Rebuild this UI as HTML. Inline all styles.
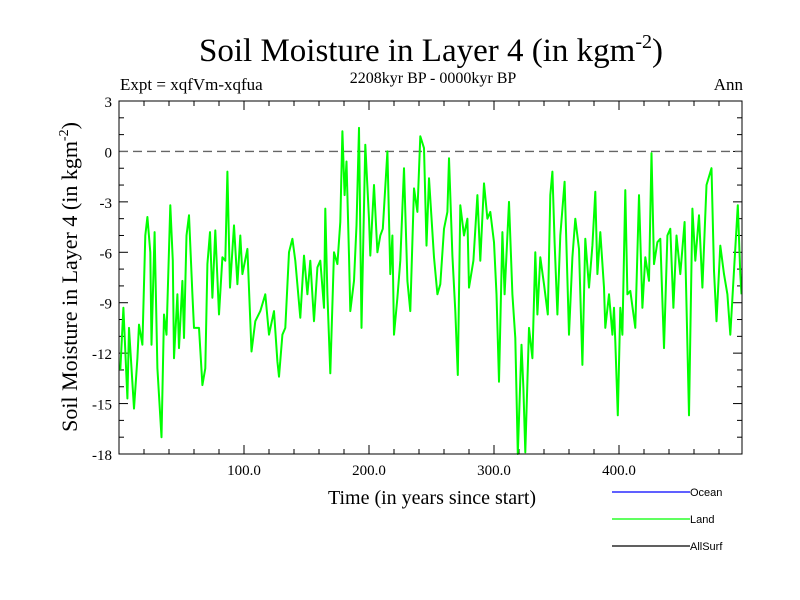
<!DOCTYPE html>
<html><head><meta charset="utf-8"><style>
body{margin:0;background:#fff}
svg{display:block;font-family:"Liberation Serif",serif}
</style></head><body>
<svg id="chart" width="800" height="600" viewBox="0 0 800 600">
<rect width="800" height="600" fill="#fff"/>
<text x="431" y="61" font-size="33" text-anchor="middle">Soil Moisture in Layer 4 (in kgm<tspan dy="-13" font-size="20">-2</tspan><tspan dy="13">)</tspan></text>
<text x="120" y="90" font-size="17">Expt = xqfVm-xqfua</text>
<text x="433" y="83" font-size="16" text-anchor="middle">2208kyr BP - 0000kyr BP</text>
<text x="743" y="90" font-size="17" text-anchor="end">Ann</text>
<text transform="translate(77,277) rotate(-90)" font-size="22" text-anchor="middle">Soil Moisture in Layer 4 (in kgm<tspan dy="-9" font-size="14">-2</tspan><tspan dy="9">)</tspan></text>
<text x="432" y="504" font-size="20" text-anchor="middle">Time (in years since start)</text>
<g id="axes"></g>
<g id="series"></g>
<rect x="119" y="101" width="623" height="353" fill="none" stroke="#000" stroke-width="1"/>
<g id="legend" font-family="Liberation Sans, sans-serif" font-size="11"></g>
</svg>
<script>
const years=[1,3.5,6.7,8,12,14.7,16,18.7,21,22.7,25,26,28.5,30.7,34,36,38,41,43,44,46.7,48,50.7,52,54,56,58.7,60,64,66.7,69,70.7,72.8,74.7,77,80,82.7,85,86.7,88.8,92,94.7,97,98.7,102.7,106,109,113,117,120,124,126.7,128,130.7,133,136,138.7,141,145,148,150.7,153,156,158.7,161,164,165,166.7,169,172,174.7,177,178.7,180.5,182,184,185,188,190,192,194,195.5,197,200,201,204,206.7,209,211,214.7,217,218.7,220,222.7,225,228,230.7,233,236,238.7,241,244,246,248,252,254.7,257,260,262.7,264,266.7,269,271,273,276,278.7,280,283.5,286.7,289,292,294.7,297,300,302,304,306.7,308.5,312,314.7,317,319,322,323.5,325,328,330.7,333,334.7,337,340,343,345,346.7,348.5,350.7,353,356.5,360,362.7,365,368,370.7,373,376,378.7,381,382.7,385,388,389,392,394.7,396,397,399,401,402.7,405,406.7,409,413,416,418.7,421,424,426,428,430.7,433,436,438.7,441,443.5,446,449,452.5,456,458.7,461,464,466.7,470,474,476,478,481,484,486.7,489,491.5,495,497,498];
const landValues=[-13,-9.3,-14.7,-10.5,-15.3,-12.3,-10.3,-11.5,-5,-3.9,-6,-11.5,-4.8,-12.9,-17,-9.7,-10.9,-3.2,-6.5,-12.3,-8.5,-11.7,-7.7,-11.1,-5,-3.8,-8.5,-10.5,-10.5,-13.9,-12.9,-6.7,-4.8,-8.7,-4.7,-9.7,-6.3,-6.5,-1.2,-8.1,-4.4,-7.9,-5,-7.3,-5.8,-11.9,-10.1,-9.5,-8.5,-10.9,-9.5,-12.5,-13.4,-10.9,-10.5,-6,-5.2,-6.5,-9.9,-6.2,-8.5,-6.5,-10.1,-6.9,-6.5,-9.3,-3.4,-8.5,-13.2,-6,-6.7,-4.2,1.2,-2.6,-0.6,-6.2,-9.5,-7.7,-4.4,1.4,-10.5,-5,0.4,-4,-6.2,-2,-6,-5,-4.6,0,-7.3,-5,-10.9,-8.7,-6.5,-1,-7.7,-9.5,-2.2,-3.6,0.9,0.2,-5.6,-1.6,-6.3,-8.5,-7.9,-4.6,-3.6,-0.4,-6.2,-9.5,-13.3,-3.2,-5,-4,-8.1,-6.5,-2.6,-6.5,-1.9,-4,-3.6,-5.4,-8.5,-13.7,-4.8,-8.5,-3,-8.5,-11.1,-18,-11.5,-14.1,-17.9,-10.5,-12.3,-6,-9.7,-6.3,-7.9,-9.7,-2.6,-1.2,-5.4,-9.7,-5,-1.8,-10.9,-6.3,-4,-5.8,-12.7,-5.2,-8.1,-5.6,-2.4,-7.3,-4.8,-8.1,-10.5,-8.5,-10.9,-9.3,-11.3,-15.7,-9.3,-10.9,-2.3,-8.5,-8.3,-10.5,-2.6,-9.3,-6.3,-7.7,-0.1,-6.7,-5.4,-5.2,-11.7,-5,-4.6,-9.3,-5,-7.3,-4.2,-15.7,-3.4,-6.5,-3.8,-8.1,-2,-1,-7.1,-10.1,-5.6,-7.3,-8.5,-10.9,-7.7,-3.2,-7.3,-8.5];
const yTickLabels=[3,0,-3,-6,-9,-12,-15,-18];
const xTickLabels=[100,200,300,400];
const legendNames=["Ocean","Land","AllSurf"];
const legendColors=["#0000ff","#00ff00","#000000"];

const X0=119,X1=742,Y0=101,Y1=454,XMIN=0,XMAX=498.4,YMIN=-18,YMAX=3;
function sx(v){return X0+(v-XMIN)/(XMAX-XMIN)*(X1-X0);}
function sy(v){return Y1-(v-YMIN)/(YMAX-YMIN)*(Y1-Y0);}
const NS="http://www.w3.org/2000/svg";
function mk(tag,attrs,parent){const e=document.createElementNS(NS,tag);for(const k in attrs)e.setAttribute(k,attrs[k]);parent.appendChild(e);return e;}
const axes=document.getElementById('axes');
for(let v=YMIN;v<=YMAX;v++){
  const major=(v%3===0);const L=major?9:5;
  const t=mk('line',{x1:X0,x2:X0+L,y1:sy(v),y2:sy(v),stroke:'#000'},axes);
  
  
  const t2=mk('line',{x1:X1,x2:X1-L,y1:sy(v),y2:sy(v),stroke:'#000'},axes);
  
  
}
yTickLabels.forEach(v=>{
  const t=mk('text',{x:X0-7,y:sy(v)+6,'font-size':15,'text-anchor':'end'},axes);
  t.textContent=v;
  
  
});
for(let v=20;v<XMAX;v+=20){
  const major=(v%100===0);const L=major?9:5;
  const t=mk('line',{x1:sx(v),x2:sx(v),y1:Y1,y2:Y1-L,stroke:'#000'},axes);
  
  
  const t2=mk('line',{x1:sx(v),x2:sx(v),y1:Y0,y2:Y0+L,stroke:'#000'},axes);
  
  
}
xTickLabels.forEach(v=>{
  const t=mk('text',{x:sx(v),y:Y1+21,'font-size':15,'text-anchor':'middle'},axes);
  t.textContent=v.toFixed(1);
  
  
});
const zl=mk('line',{x1:X0,x2:X1,y1:sy(0),y2:sy(0),stroke:'#666','stroke-width':1.3,'stroke-dasharray':'9,5'},axes);


const series=document.getElementById('series');
const p=mk('polyline',{points:years.map((y,i)=>sx(y).toFixed(1)+','+sy(landValues[i]).toFixed(1)).join(' '),fill:'none',stroke:'#00ff00','stroke-width':2,'stroke-linejoin':'round'},series);


const lg=document.getElementById('legend');
legendNames.forEach((n,i)=>{
  const y=492+i*27;
  const l=mk('line',{x1:612,x2:690,y1:y,y2:y,stroke:legendColors[i],'stroke-width':1.2},lg);
  
  
  const t=mk('text',{x:690,y:y+4},lg);
  t.textContent=n;
  
  
});
</script>
</body></html>
